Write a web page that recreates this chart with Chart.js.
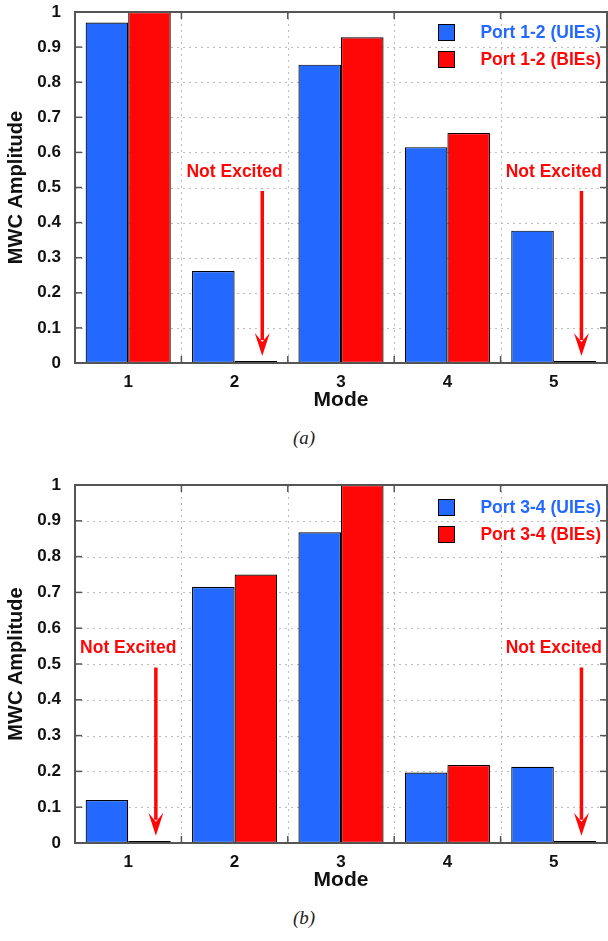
<!DOCTYPE html>
<html>
<head>
<meta charset="utf-8">
<script src="https://cdn.jsdelivr.net/npm/chart.js@4.4.0/dist/chart.umd.min.js"></script>
<style>
  body { margin: 0; background: #fff; width: 608px; height: 941px; position: relative; overflow: hidden; }
  .box { position: absolute; left: 0; width: 608px; }
  .cap { position: absolute; left: 0; width: 608px; text-align: center; font-family: "Liberation Serif", "DejaVu Serif", serif; font-style: italic; font-size: 19px; color: #222; }
</style>
</head>
<body>
<div class="box" style="top:0;height:420px"><canvas id="chartA" width="608" height="420"></canvas></div>
<div class="cap" style="top:427px">(a)</div>
<div class="box" style="top:470px;height:430px"><canvas id="chartB" width="608" height="430"></canvas></div>
<div class="cap" style="top:907px">(b)</div>
<script>
// === Dados ===
const modes = ["1", "2", "3", "4", "5"];
const yTicks = [0, 0.1, 0.2, 0.3, 0.4, 0.5, 0.6, 0.7, 0.8, 0.9, 1];

const labelsA = ["Port 1-2 (UIEs)", "Port 1-2 (BIEs)"];
const uiesA = [0.97, 0.262, 0.85, 0.615, 0.377];
const biesA = [1.0, 0, 0.928, 0.655, 0];
const notExcitedA = [1, 4];   // índices dos modos não excitados

const labelsB = ["Port 3-4 (UIEs)", "Port 3-4 (BIEs)"];
const uiesB = [0.12, 0.715, 0.868, 0.197, 0.213];
const biesB = [0, 0.75, 1.0, 0.218, 0];
const notExcitedB = [0, 4];

const noteText = "Not Excited";
const noteTextY = 0.545;
const arrowTopY = 0.49;
const arrowTipY = 0.02;

const BLUE = "#2369ff";
const RED = "#ff0707";
const FONT = "'Liberation Sans', Arial, sans-serif";

// === Plugin: grade pontilhada, moldura, legenda e setas ===
const framePlugin = {
  id: "frame",
  beforeDatasetsDraw(chart) {
    const ctx = chart.ctx, a = chart.chartArea;
    const x = chart.scales.x, y = chart.scales.y;
    ctx.save();
    ctx.strokeStyle = "#bdbdbd";
    ctx.lineWidth = 1;
    ctx.setLineDash([2, 4]);
    yTicks.forEach(v => {
      if (v === 0 || v === 1) return;
      const py = Math.round(y.getPixelForValue(v)) + 0.5;
      ctx.beginPath(); ctx.moveTo(a.left, py); ctx.lineTo(a.right, py); ctx.stroke();
    });
    for (let i = 0; i < modes.length - 1; i++) {
      const px = Math.round((x.getPixelForValue(i) + x.getPixelForValue(i + 1)) / 2) + 0.5;
      ctx.beginPath(); ctx.moveTo(px, a.top); ctx.lineTo(px, a.bottom); ctx.stroke();
    }
    ctx.restore();
  },
  afterDatasetsDraw(chart, args, opts) {
    const ctx = chart.ctx, a = chart.chartArea;
    const x = chart.scales.x, y = chart.scales.y;
    ctx.save();
    // moldura
    ctx.strokeStyle = "#555";
    ctx.lineWidth = 2;
    ctx.strokeRect(a.left, a.top, a.right - a.left, a.bottom - a.top);
    ctx.lineWidth = 1.5;
    yTicks.forEach(v => {
      const py = y.getPixelForValue(v);
      ctx.beginPath(); ctx.moveTo(a.left, py); ctx.lineTo(a.left + 7, py); ctx.stroke();
      ctx.beginPath(); ctx.moveTo(a.right, py); ctx.lineTo(a.right - 7, py); ctx.stroke();
    });
    for (let i = 0; i < modes.length - 1; i++) {
      const px = (x.getPixelForValue(i) + x.getPixelForValue(i + 1)) / 2;
      ctx.beginPath(); ctx.moveTo(px, a.bottom); ctx.lineTo(px, a.bottom - 7); ctx.stroke();
      ctx.beginPath(); ctx.moveTo(px, a.top); ctx.lineTo(px, a.top + 7); ctx.stroke();
    }

    // setas "Not Excited"
    const step = x.getPixelForValue(1) - x.getPixelForValue(0);
    ctx.fillStyle = RED;
    ctx.strokeStyle = RED;
    ctx.font = "bold 17.5px " + FONT;
    ctx.textAlign = "center";
    ctx.textBaseline = "middle";
    opts.notes.forEach(i => {
      const cx = x.getPixelForValue(i);
      ctx.fillText(noteText, cx, y.getPixelForValue(noteTextY));
      const ax = cx + step * 0.26;
      const top = y.getPixelForValue(arrowTopY), tip = y.getPixelForValue(arrowTipY);
      ctx.lineWidth = 3.5;
      ctx.beginPath(); ctx.moveTo(ax, top); ctx.lineTo(ax, tip - 16); ctx.stroke();
      ctx.beginPath();
      ctx.moveTo(ax - 7.5, tip - 23);
      ctx.lineTo(ax, tip - 14);
      ctx.lineTo(ax + 7.5, tip - 23);
      ctx.lineTo(ax, tip);
      ctx.closePath();
      ctx.fill();
    });

    // legenda
    ctx.textAlign = "right";
    chart.data.datasets.forEach((ds, k) => {
      const ry = a.top + opts.legendTop + k * 27;
      ctx.fillStyle = ds.backgroundColor;
      ctx.fillRect(a.right - 169, ry - 8, 17, 17);
      ctx.strokeStyle = "#000";
      ctx.lineWidth = 1;
      ctx.strokeRect(a.right - 169 + 0.5, ry - 8 + 0.5, 16, 16);
      ctx.fillStyle = ds.backgroundColor;
      ctx.fillText(ds.label, a.right - 6, ry + 1);
    });
    ctx.restore();
  }
};

function criarGrafico(id, labels, uies, bies, notes, padTop, axisH, legendTop) {
  return new Chart(document.getElementById(id), {
    type: "bar",
    data: {
      labels: modes,
      datasets: [
        { label: labels[0], data: uies, backgroundColor: BLUE, borderColor: "#000", borderWidth: 1.2, borderSkipped: false },
        { label: labels[1], data: bies, backgroundColor: RED, borderColor: "#000", borderWidth: 1.2, borderSkipped: false, minBarLength: 2 }
      ]
    },
    options: {
      responsive: false,
      animation: false,
      layout: { padding: { top: padTop, right: 1, left: 0, bottom: 0 } },
      categoryPercentage: 0.8,
      barPercentage: 1.0,
      plugins: {
        legend: { display: false },
        tooltip: { enabled: false },
        frame: { notes: notes, legendTop: legendTop }
      },
      scales: {
        x: {
          grid: { display: false, drawTicks: false },
          border: { display: false },
          ticks: { color: "#111", font: { family: FONT, size: 17, weight: "bold" }, padding: 9 },
          title: { display: true, text: "Mode", color: "#111", font: { family: FONT, size: 21, weight: "bold" }, padding: { top: 0, bottom: 7 } },
          afterFit(scale) { scale.height = axisH; scale.paddingLeft = 0; scale.paddingRight = 0; }
        },
        y: {
          min: 0, max: 1,
          grid: { display: false, drawTicks: false },
          border: { display: false },
          afterBuildTicks(scale) { scale.ticks = yTicks.map(v => ({ value: v })); },
          ticks: {
            color: "#111", font: { family: FONT, size: 17, weight: "bold" }, padding: 14,
            callback: v => (v === 0 ? "0" : v === 1 ? "1" : v.toFixed(1))
          },
          title: { display: true, text: "MWC Amplitude", color: "#111", font: { family: FONT, size: 20, weight: "bold" }, padding: { top: 4, bottom: 0 } },
          afterFit(scale) { scale.width = 75; scale.paddingTop = 0; scale.paddingBottom = 0; }
        }
      }
    },
    plugins: [framePlugin]
  });
}

criarGrafico("chartA", labelsA, uiesA, biesA, notExcitedA, 12, 57, 20);
criarGrafico("chartB", labelsB, uiesB, biesB, notExcitedB, 15, 57, 22);
</script>
</body>
</html>
